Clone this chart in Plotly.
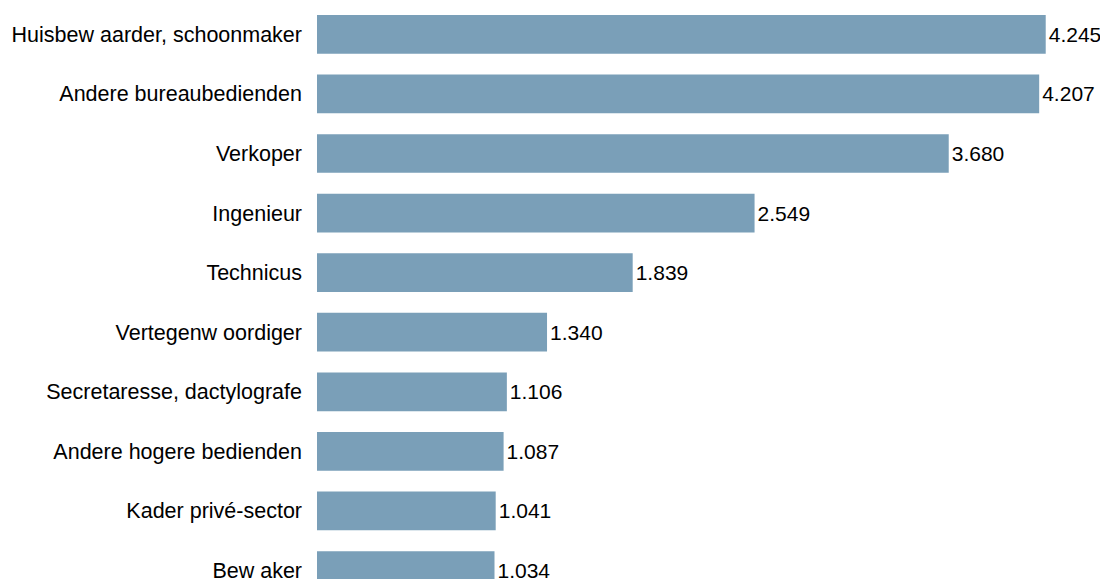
import plotly.graph_objects as go

categories = [
    "Huisbew aarder, schoonmaker",
    "Andere bureaubedienden",
    "Verkoper",
    "Ingenieur",
    "Technicus",
    "Vertegenw oordiger",
    "Secretaresse, dactylografe",
    "Andere hogere bedienden",
    "Kader privé-sector",
    "Bew aker",
]
values = [4245, 4207, 3680, 2549, 1839, 1340, 1106, 1087, 1041, 1034]

FONT = "Liberation Sans, Arial, sans-serif"

fig = go.Figure(
    go.Bar(
        x=values,
        y=categories,
        orientation="h",
        marker=dict(color="#7A9FB8", line=dict(width=0)),
        texttemplate="%{x:,}",
        textposition="outside",
        textfont=dict(family=FONT, size=21, color="#000000"),
        cliponaxis=False,
        hoverinfo="skip",
    )
)

fig.update_layout(
    width=1100,
    height=575,
    margin=dict(l=309, r=1, t=0, b=0),
    paper_bgcolor="white",
    plot_bgcolor="white",
    separators=",.",
    bargap=0.35,
    showlegend=False,
    font=dict(family=FONT, size=21, color="#000000"),
    xaxis=dict(
        range=[0, 4602],
        visible=False,
        showgrid=False,
        zeroline=False,
    ),
    yaxis=dict(
        type="category",
        range=[9.142, -0.442],
        showgrid=False,
        zeroline=False,
        showline=False,
        ticks="",
        ticklabelstandoff=14,
        tickfont=dict(family=FONT, size=21.5, color="#000000"),
    ),
)

fig.write_html("out.html")
